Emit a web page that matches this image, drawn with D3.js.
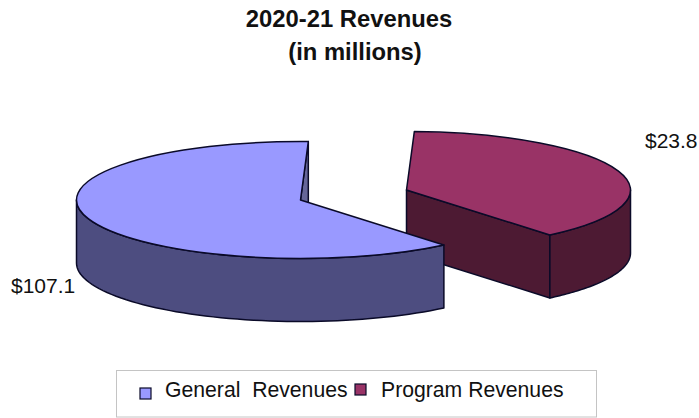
<!DOCTYPE html>
<html>
<head>
<meta charset="utf-8">
<script src="https://cdn.jsdelivr.net/npm/d3@7"></script>
<style>
html,body{margin:0;padding:0;background:#fff;overflow:hidden}
text{font-family:"Liberation Sans",Arial,sans-serif;fill:#111}
</style>
</head>
<body>
<svg id="chart" width="699" height="418"></svg>
<script>
// Printed amounts
const categories = ["General  Revenues", "Program Revenues"];
const valueLabels = ["$107.1", "$23.8"];
// Slice sweeps as drawn in the picture, in degrees (the original's slices are not proportional to the printed amounts)
const drawnSweeps = [221.8, 138.2];
const topColors = ["#9999ff", "#993366"];
const wallColors = ["#4d4d80", "#4d1a33"];
const innerWallColor = "#666699";
const titleLines = ["2020-21 Revenues", "(in millions)"];

const W = 699, H = 418;
const svg = d3.select("#chart").attr("viewBox", [0, 0, W, H]);

const rx = 224, ry = 58.5, depth = 63, tilt = ry / rx;
const centers = [{x: 300.5, y: 200}, {x: 406.5, y: 190}];
const startDeg = 2;
const rad = d3.scaleLinear().domain([0, 360]).range([0, 2 * Math.PI]);

// Program Revenues first from the pie's start, General Revenues after it
const pie = d3.pie().sort(null).value(d => d.sweep)
  .startAngle(rad(startDeg)).endAngle(rad(startDeg + 360));
const slices = pie([
  {i: 1, sweep: drawnSweeps[1]},
  {i: 0, sweep: drawnSweeps[0]}
]);

const arc = d3.arc().innerRadius(0).outerRadius(rx);
const line = d3.line();
const ptAt = (c, a, dy = 0) => [c.x + rx * Math.sin(a), c.y - ry * Math.cos(a) + dy];
const sampleAngles = (a0, a1) => d3.range(0, 61).map(k => a0 + (a1 - a0) * k / 60);
const outline = {stroke: "#0a0a28", "stroke-width": 1.5, "stroke-linejoin": "round"};

function applyStroke(sel) {
  Object.entries(outline).forEach(([k, v]) => sel.attr(k, v));
  return sel;
}

function outerWall(c, a0, a1, fill) {
  const top = sampleAngles(a0, a1).map(a => ptAt(c, a));
  const bot = sampleAngles(a1, a0).map(a => ptAt(c, a, depth));
  applyStroke(svg.append("path").attr("d", line(top.concat(bot)) + "Z").attr("fill", fill));
}
function radialWall(c, a, fill) {
  const p = ptAt(c, a);
  const pts = [[c.x, c.y], p, [p[0], p[1] + depth], [c.x, c.y + depth]];
  applyStroke(svg.append("path").attr("d", line(pts) + "Z").attr("fill", fill));
}
function topFace(c, s, fill) {
  applyStroke(svg.append("path")
    .attr("d", arc(s))
    .attr("transform", `translate(${c.x},${c.y}) scale(1,${tilt})`)
    .attr("vector-effect", "non-scaling-stroke")
    .attr("fill", fill));
}

// Program Revenues slice (behind)
const red = slices[0], blue = slices[1];
radialWall(centers[1], red.endAngle, wallColors[1]);
outerWall(centers[1], Math.PI / 2, red.endAngle, wallColors[1]);
topFace(centers[1], red, topColors[1]);

// General Revenues slice (front)
radialWall(centers[0], blue.endAngle, innerWallColor);
outerWall(centers[0], blue.startAngle, rad(270), wallColors[0]);
topFace(centers[0], blue, topColors[0]);

// Title
const titleX = [349, 355], titleY = [27, 60];
svg.selectAll("text.title").data(titleLines).join("text")
  .attr("class", "title")
  .attr("x", (d, i) => titleX[i]).attr("y", (d, i) => titleY[i])
  .attr("text-anchor", "middle")
  .attr("font-size", 23.8).attr("font-weight", "bold")
  .text(d => d);

// Value labels
const labelPos = [[11, 293], [645, 148]];
svg.selectAll("text.val").data(valueLabels).join("text")
  .attr("class", "val")
  .attr("x", (d, i) => labelPos[i][0]).attr("y", (d, i) => labelPos[i][1])
  .attr("font-size", 21)
  .text(d => d);

// Legend
svg.append("rect").attr("x", 116.5).attr("y", 370.5).attr("width", 480).attr("height", 46.5)
  .attr("fill", "#fff").attr("stroke", "#c4c4c4").attr("stroke-width", 1);
const markers = [[140, 388], [355, 384]];
const legendText = [165, 381];
categories.forEach((name, i) => {
  svg.append("rect").attr("x", markers[i][0]).attr("y", markers[i][1])
    .attr("width", 11).attr("height", 11)
    .attr("fill", topColors[i]).attr("stroke", "#0a0a28").attr("stroke-width", 1.2);
  svg.append("text").attr("x", legendText[i]).attr("y", 397)
    .attr("font-size", 21.2).attr("xml:space", "preserve").style("white-space", "pre")
    .text(name);
});
</script>
</body>
</html>
